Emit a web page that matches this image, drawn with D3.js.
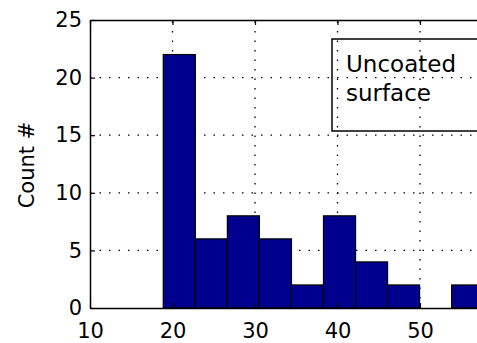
<!DOCTYPE html>
<html>
<head>
<meta charset="utf-8">
<script src="https://cdn.jsdelivr.net/npm/d3@7"></script>
<style>
  body { margin: 0; background: #fff; }
  svg { display: block; font-family: "DejaVu Sans", sans-serif; }
</style>
</head>
<body>
<div id="chart"></div>
<script>
// histogram bins
var binEdges = [18.88, 22.77, 26.65, 30.53, 34.42, 38.30, 42.19, 46.07, 49.95, 53.84, 57.72];
var counts = [22, 6, 8, 6, 2, 8, 4, 2, 0, 2];
var xTicks = [10, 20, 30, 40, 50];
var yTicks = [0, 5, 10, 15, 20, 25];
var legendLines = ["Uncoated", "surface"];

var w = 477, h = 343;
var padLeft = 90, padTop = 20, padBottom = 308;

var svg = d3.select("#chart")
    .append("svg")
    .attr("width", w)
    .attr("height", h);

var x = d3.scaleLinear().domain([10, 60]).range([padLeft, padLeft + 412.5]);
var y = d3.scaleLinear().domain([0, 25]).range([padBottom, padTop]);

// dotted grid, under the bars
var grid = svg.append("g")
    .attr("stroke", "#000")
    .attr("stroke-width", 1.3)
    .attr("stroke-dasharray", "1.5,8");

grid.selectAll("line.gx")
    .data(xTicks.filter(function(d) { return d > 10; }))
    .enter()
    .append("line")
    .attr("x1", function(d) { return x(d); })
    .attr("x2", function(d) { return x(d); })
    .attr("y1", padBottom)
    .attr("y2", padTop);

grid.selectAll("line.gy")
    .data(yTicks.filter(function(d) { return d > 0 && d < 25; }))
    .enter()
    .append("line")
    .attr("x1", padLeft)
    .attr("x2", x(60))
    .attr("y1", function(d) { return y(d); })
    .attr("y2", function(d) { return y(d); });

// bars
svg.selectAll("rect.bar")
    .data(counts)
    .enter()
    .append("rect")
    .attr("class", "bar")
    .attr("x", function(d, i) { return x(binEdges[i]); })
    .attr("width", function(d, i) { return x(binEdges[i + 1]) - x(binEdges[i]); })
    .attr("y", function(d) { return y(d); })
    .attr("height", function(d) { return y(0) - y(d); })
    .style("fill", "rgb(0, 0, 143)")
    .style("stroke", "#000")
    .style("stroke-width", 1.2);

// axes (ticks point inward like matlab)
var xAxis = svg.append("g")
    .attr("transform", "translate(0," + padBottom + ")")
    .call(d3.axisBottom(x).tickValues(xTicks).tickSize(-5).tickSizeOuter(0).tickFormat(d3.format("d")));
var xTop = svg.append("g")
    .attr("transform", "translate(0," + padTop + ")")
    .call(d3.axisTop(x).tickValues(xTicks).tickSize(-5).tickSizeOuter(0).tickFormat(""));
var yAxis = svg.append("g")
    .attr("transform", "translate(" + padLeft + ",0)")
    .call(d3.axisLeft(y).tickValues(yTicks).tickSize(-5).tickSizeOuter(0).tickPadding(8).tickFormat(d3.format("d")));

[xAxis, xTop, yAxis].forEach(function(a) {
    a.select(".domain").attr("stroke", "#000").attr("stroke-width", 1.5);
    a.selectAll(".tick line").attr("stroke", "#000").attr("stroke-width", 1.2);
    a.selectAll("text")
        .attr("fill", "#000")
        .style("font-size", "21px")
        .style("font-family", "'DejaVu Sans', sans-serif");
});
xAxis.selectAll(".tick text").attr("dy", null).attr("y", 30);

// y label
svg.append("text")
    .attr("transform", "translate(34,165) rotate(-90)")
    .attr("text-anchor", "middle")
    .style("font-size", "21px")
    .text("Count #");

// text box
svg.append("rect")
    .attr("x", 332)
    .attr("y", 39)
    .attr("width", 200)
    .attr("height", 92)
    .style("fill", "none")
    .style("stroke", "#000")
    .style("stroke-width", 1.5);

svg.selectAll("text.leg")
    .data(legendLines)
    .enter()
    .append("text")
    .attr("class", "leg")
    .attr("x", 346)
    .attr("y", function(d, i) { return 72 + i * 29; })
    .style("font-size", "23px")
    .text(function(d) { return d; });
</script>
</body>
</html>
